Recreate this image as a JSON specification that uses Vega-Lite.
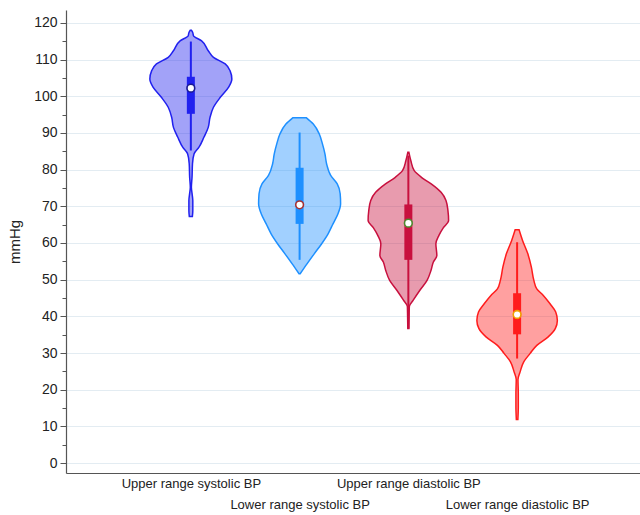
{
  "$schema": "https://vega.github.io/schema/vega-lite/v6.json",
  "width": 574,
  "height": 463,
  "autosize": {"type": "none"},
  "padding": {"left": 66, "top": 10, "right": 0, "bottom": 42},
  "background": "white",
  "config": {
    "view": {"stroke": null},
    "font": "Liberation Sans",
    "axis": {"domainColor": "#555555", "domainWidth": 1.2, "tickColor": "#555555", "labelColor": "#222222", "titleColor": "#222222", "labelFont": "Liberation Sans", "titleFont": "Liberation Sans"}
  },
  "datasets": {
    "violin": [
      {"group": "Upper range systolic BP", "pos": 1, "v": 118.0, "w": 0.005},
      {"group": "Upper range systolic BP", "pos": 1, "v": 117.3, "w": 0.018},
      {"group": "Upper range systolic BP", "pos": 1, "v": 116.5, "w": 0.024},
      {"group": "Upper range systolic BP", "pos": 1, "v": 115.1, "w": 0.099},
      {"group": "Upper range systolic BP", "pos": 1, "v": 112.4, "w": 0.160},
      {"group": "Upper range systolic BP", "pos": 1, "v": 110.6, "w": 0.208},
      {"group": "Upper range systolic BP", "pos": 1, "v": 108.8, "w": 0.316},
      {"group": "Upper range systolic BP", "pos": 1, "v": 106.9, "w": 0.361},
      {"group": "Upper range systolic BP", "pos": 1, "v": 104.7, "w": 0.377},
      {"group": "Upper range systolic BP", "pos": 1, "v": 102.4, "w": 0.346},
      {"group": "Upper range systolic BP", "pos": 1, "v": 99.7, "w": 0.271},
      {"group": "Upper range systolic BP", "pos": 1, "v": 97.0, "w": 0.208},
      {"group": "Upper range systolic BP", "pos": 1, "v": 94.2, "w": 0.176},
      {"group": "Upper range systolic BP", "pos": 1, "v": 91.5, "w": 0.160},
      {"group": "Upper range systolic BP", "pos": 1, "v": 88.8, "w": 0.120},
      {"group": "Upper range systolic BP", "pos": 1, "v": 86.1, "w": 0.075},
      {"group": "Upper range systolic BP", "pos": 1, "v": 84.3, "w": 0.030},
      {"group": "Upper range systolic BP", "pos": 1, "v": 81.6, "w": 0.015},
      {"group": "Upper range systolic BP", "pos": 1, "v": 77.9, "w": 0.011},
      {"group": "Upper range systolic BP", "pos": 1, "v": 75.2, "w": 0.005},
      {"group": "Upper range systolic BP", "pos": 1, "v": 73.5, "w": 0.011},
      {"group": "Upper range systolic BP", "pos": 1, "v": 71.6, "w": 0.018},
      {"group": "Upper range systolic BP", "pos": 1, "v": 68.8, "w": 0.018},
      {"group": "Upper range systolic BP", "pos": 1, "v": 67.2, "w": 0.014},

      {"group": "Lower range systolic BP", "pos": 2, "v": 94.1, "w": 0.063},
      {"group": "Lower range systolic BP", "pos": 2, "v": 92.4, "w": 0.126},
      {"group": "Lower range systolic BP", "pos": 2, "v": 89.7, "w": 0.181},
      {"group": "Lower range systolic BP", "pos": 2, "v": 87.0, "w": 0.210},
      {"group": "Lower range systolic BP", "pos": 2, "v": 84.3, "w": 0.233},
      {"group": "Lower range systolic BP", "pos": 2, "v": 81.6, "w": 0.248},
      {"group": "Lower range systolic BP", "pos": 2, "v": 78.4, "w": 0.286},
      {"group": "Lower range systolic BP", "pos": 2, "v": 76.1, "w": 0.346},
      {"group": "Lower range systolic BP", "pos": 2, "v": 73.4, "w": 0.373},
      {"group": "Lower range systolic BP", "pos": 2, "v": 70.7, "w": 0.377},
      {"group": "Lower range systolic BP", "pos": 2, "v": 67.9, "w": 0.352},
      {"group": "Lower range systolic BP", "pos": 2, "v": 65.2, "w": 0.307},
      {"group": "Lower range systolic BP", "pos": 2, "v": 62.5, "w": 0.262},
      {"group": "Lower range systolic BP", "pos": 2, "v": 59.8, "w": 0.203},
      {"group": "Lower range systolic BP", "pos": 2, "v": 57.1, "w": 0.136},
      {"group": "Lower range systolic BP", "pos": 2, "v": 54.3, "w": 0.068},
      {"group": "Lower range systolic BP", "pos": 2, "v": 51.6, "w": 0.005},

      {"group": "Upper range diastolic BP", "pos": 3, "v": 84.7, "w": 0.005},
      {"group": "Upper range diastolic BP", "pos": 3, "v": 82.4, "w": 0.023},
      {"group": "Upper range diastolic BP", "pos": 3, "v": 79.7, "w": 0.054},
      {"group": "Upper range diastolic BP", "pos": 3, "v": 77.9, "w": 0.120},
      {"group": "Upper range diastolic BP", "pos": 3, "v": 76.1, "w": 0.210},
      {"group": "Upper range diastolic BP", "pos": 3, "v": 73.8, "w": 0.301},
      {"group": "Upper range diastolic BP", "pos": 3, "v": 71.6, "w": 0.346},
      {"group": "Upper range diastolic BP", "pos": 3, "v": 68.8, "w": 0.364},
      {"group": "Upper range diastolic BP", "pos": 3, "v": 66.1, "w": 0.370},
      {"group": "Upper range diastolic BP", "pos": 3, "v": 64.1, "w": 0.321},
      {"group": "Upper range diastolic BP", "pos": 3, "v": 62.0, "w": 0.280},
      {"group": "Upper range diastolic BP", "pos": 3, "v": 59.8, "w": 0.253},
      {"group": "Upper range diastolic BP", "pos": 3, "v": 56.6, "w": 0.262},
      {"group": "Upper range diastolic BP", "pos": 3, "v": 54.8, "w": 0.230},
      {"group": "Upper range diastolic BP", "pos": 3, "v": 52.5, "w": 0.208},
      {"group": "Upper range diastolic BP", "pos": 3, "v": 49.8, "w": 0.172},
      {"group": "Upper range diastolic BP", "pos": 3, "v": 47.1, "w": 0.106},
      {"group": "Upper range diastolic BP", "pos": 3, "v": 44.4, "w": 0.045},
      {"group": "Upper range diastolic BP", "pos": 3, "v": 42.7, "w": 0.009},
      {"group": "Upper range diastolic BP", "pos": 3, "v": 40.0, "w": 0.007},
      {"group": "Upper range diastolic BP", "pos": 3, "v": 36.7, "w": 0.005},

      {"group": "Lower range diastolic BP", "pos": 4, "v": 63.6, "w": 0.018},
      {"group": "Lower range diastolic BP", "pos": 4, "v": 60.7, "w": 0.050},
      {"group": "Lower range diastolic BP", "pos": 4, "v": 57.1, "w": 0.098},
      {"group": "Lower range diastolic BP", "pos": 4, "v": 53.4, "w": 0.131},
      {"group": "Lower range diastolic BP", "pos": 4, "v": 49.8, "w": 0.154},
      {"group": "Lower range diastolic BP", "pos": 4, "v": 47.5, "w": 0.181},
      {"group": "Lower range diastolic BP", "pos": 4, "v": 45.7, "w": 0.241},
      {"group": "Lower range diastolic BP", "pos": 4, "v": 43.5, "w": 0.301},
      {"group": "Lower range diastolic BP", "pos": 4, "v": 41.2, "w": 0.355},
      {"group": "Lower range diastolic BP", "pos": 4, "v": 38.9, "w": 0.370},
      {"group": "Lower range diastolic BP", "pos": 4, "v": 36.7, "w": 0.352},
      {"group": "Lower range diastolic BP", "pos": 4, "v": 34.4, "w": 0.286},
      {"group": "Lower range diastolic BP", "pos": 4, "v": 32.1, "w": 0.181},
      {"group": "Lower range diastolic BP", "pos": 4, "v": 29.9, "w": 0.120},
      {"group": "Lower range diastolic BP", "pos": 4, "v": 27.6, "w": 0.061},
      {"group": "Lower range diastolic BP", "pos": 4, "v": 24.8, "w": 0.027},
      {"group": "Lower range diastolic BP", "pos": 4, "v": 22.8, "w": 0.008},
      {"group": "Lower range diastolic BP", "pos": 4, "v": 19.0, "w": 0.011},
      {"group": "Lower range diastolic BP", "pos": 4, "v": 15.3, "w": 0.011},
      {"group": "Lower range diastolic BP", "pos": 4, "v": 11.9, "w": 0.007}
    ],
    "stats": [
      {"group": "Upper range systolic BP", "pos": 1, "q1": 95.2, "q3": 105.3, "med": 102.2, "lo": 85.2, "hi": 114.9},
      {"group": "Lower range systolic BP", "pos": 2, "q1": 65.2, "q3": 80.5, "med": 70.4, "lo": 55.4, "hi": 90.1},
      {"group": "Upper range diastolic BP", "pos": 3, "q1": 55.4, "q3": 70.5, "med": 65.4, "lo": 36.7, "hi": 83.8},
      {"group": "Lower range diastolic BP", "pos": 4, "q1": 35.1, "q3": 46.3, "med": 40.5, "lo": 28.5, "hi": 60.2}
    ]
  },
  "resolve": {"scale": {"stroke": "independent"}, "axis": {"y": "independent"}},
  "layer": [
    {
      "data": {"name": "violin"},
      "transform": [
        {"calculate": "datum.pos - datum.w", "as": "left"},
        {"calculate": "datum.pos + datum.w", "as": "right"}
      ],
      "mark": {"type": "area", "orient": "horizontal", "fillOpacity": 0.42, "strokeWidth": 1.5, "interpolate": "monotone"},
      "encoding": {
        "y": {"field": "v", "type": "quantitative", "scale": {"domain": [-2.7, 123.5], "nice": false, "zero": false},
          "axis": {"orient": "left", "values": [0, 10, 20, 30, 40, 50, 60, 70, 80, 90, 100, 110, 120], "tickSize": 6, "labelPadding": 3, "labelFontSize": 14, "grid": true, "gridColor": "#e3ecf2", "gridWidth": 1, "title": "mmHg", "titleFontSize": 15, "titleFontWeight": "normal", "titlePadding": 11}},
        "x": {"field": "left", "type": "quantitative", "scale": {"domain": [-0.102, 5.084], "nice": false, "zero": false},
          "axis": {"values": [1, 2, 3, 4], "labelExpr": "['', 'Upper range systolic BP', 'Lower range systolic BP', 'Upper range diastolic BP', 'Lower range diastolic BP'][datum.value]", "ticks": false, "grid": false, "title": null, "labelFontSize": 13, "labelPadding": {"condition": {"test": "datum.value == 2 || datum.value == 4", "value": 25}, "value": 4}, "labelFlush": false, "labelOverlap": false, "labelBound": false}},
        "x2": {"field": "right"},
        "color": {"field": "group", "type": "nominal", "scale": {"domain": ["Upper range systolic BP", "Lower range systolic BP", "Upper range diastolic BP", "Lower range diastolic BP"], "range": ["#2121ef", "#1e90ff", "#c8103e", "#ff1c1c"]}, "legend": null},
        "stroke": {"field": "group", "type": "nominal", "scale": {"domain": ["Upper range systolic BP", "Lower range systolic BP", "Upper range diastolic BP", "Lower range diastolic BP"], "range": ["#2121ef", "#1e90ff", "#c8103e", "#ff1c1c"]}, "legend": null}
      }
    },
    {
      "data": {"name": "stats"},
      "mark": {"type": "rule", "strokeWidth": 2},
      "encoding": {
        "y": {"field": "lo", "type": "quantitative",
          "axis": {"orient": "left", "values": [5, 15, 25, 35, 45, 55, 65, 75, 85, 95, 105, 115], "labels": false, "grid": false, "domain": false, "tickSize": 4, "title": null}},
        "y2": {"field": "hi"},
        "x": {"field": "pos", "type": "quantitative",
          "axis": {"values": [1, 2, 3, 4], "labelExpr": "['', 'Upper range systolic BP', 'Lower range systolic BP', 'Upper range diastolic BP', 'Lower range diastolic BP'][datum.value]", "ticks": false, "grid": false, "title": null, "labelFontSize": 13, "labelPadding": {"condition": {"test": "datum.value == 2 || datum.value == 4", "value": 25}, "value": 4}, "labelFlush": false, "labelOverlap": false, "labelBound": false}},
        "color": {"field": "group", "type": "nominal", "legend": null}
      }
    },
    {
      "data": {"name": "stats"},
      "mark": {"type": "bar", "size": 8},
      "encoding": {
        "y": {"field": "q1", "type": "quantitative", "axis": null},
        "y2": {"field": "q3"},
        "x": {"field": "pos", "type": "quantitative",
          "axis": {"values": [1, 2, 3, 4], "labelExpr": "['', 'Upper range systolic BP', 'Lower range systolic BP', 'Upper range diastolic BP', 'Lower range diastolic BP'][datum.value]", "ticks": false, "grid": false, "title": null, "labelFontSize": 13, "labelPadding": {"condition": {"test": "datum.value == 2 || datum.value == 4", "value": 25}, "value": 4}, "labelFlush": false, "labelOverlap": false, "labelBound": false}},
        "color": {"field": "group", "type": "nominal", "legend": null}
      }
    },
    {
      "data": {"name": "stats"},
      "mark": {"type": "point", "filled": true, "fill": "white", "size": 60, "strokeWidth": 1.6, "opacity": 1},
      "encoding": {
        "y": {"field": "med", "type": "quantitative", "axis": null},
        "x": {"field": "pos", "type": "quantitative",
          "axis": {"values": [1, 2, 3, 4], "labelExpr": "['', 'Upper range systolic BP', 'Lower range systolic BP', 'Upper range diastolic BP', 'Lower range diastolic BP'][datum.value]", "ticks": false, "grid": false, "title": null, "labelFontSize": 13, "labelPadding": {"condition": {"test": "datum.value == 2 || datum.value == 4", "value": 25}, "value": 4}, "labelFlush": false, "labelOverlap": false, "labelBound": false}},
        "stroke": {"field": "group", "type": "nominal", "scale": {"domain": ["Upper range systolic BP", "Lower range systolic BP", "Upper range diastolic BP", "Lower range diastolic BP"], "range": ["#1a1a90", "#a83232", "#4d8a2e", "#f0a000"]}, "legend": null}
      }
    }
  ]
}
